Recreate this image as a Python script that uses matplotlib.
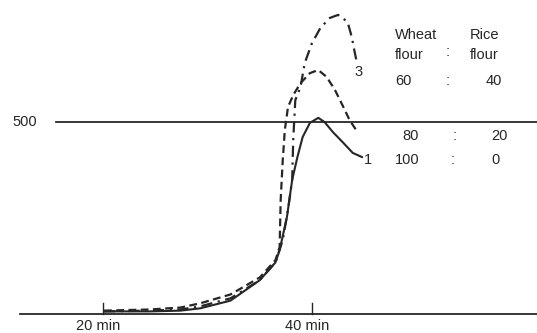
import matplotlib
matplotlib.use("Agg")
import matplotlib.pyplot as plt

# time (min) and viscosity (BU)
t1 = [20.1, 24.5, 27.4, 29.3, 32.2, 35.0, 36.5, 36.9, 37.6, 38.1, 38.6, 39.1, 39.8, 40.6, 41.2, 42.0, 43.0, 43.9, 44.8]
v1 = [8, 8, 10, 16, 36, 89, 135, 167, 253, 349, 408, 460, 497, 510, 499, 473, 445, 419, 408]

t2 = [20.1, 24.5, 27.4, 29.3, 32.2, 35.0, 36.5, 36.9, 37.0, 37.2, 37.4, 37.7, 38.2, 38.9, 39.8, 40.6, 41.4, 42.2, 43.0, 43.6, 44.4]
v2 = [10, 13, 18, 29, 52, 96, 141, 175, 297, 401, 479, 538, 569, 600, 626, 634, 616, 582, 538, 504, 471]

t3 = [20.1, 24.5, 27.4, 29.3, 32.2, 35.0, 36.5, 37.2, 37.7, 38.1, 38.2, 38.4, 38.9, 39.3, 40.0, 40.8, 41.7, 42.5, 43.4, 43.8, 44.1, 44.3]
v3 = [8, 10, 13, 21, 42, 89, 135, 193, 271, 349, 453, 556, 590, 652, 704, 743, 769, 777, 759, 720, 678, 652]

xticks = [20, 40]
xtick_labels = ["20 min", "40 min"]
ref_level = 500

legend_head = [("Wheat", "flour"), ("Rice", "flour")]
ratio_wheat = ["60", "80", "100"]
ratio_rice = ["40", "20", "0"]

col = "#262626"
plt.rcParams['font.family'] = ['Liberation Sans', 'DejaVu Sans']

fig = plt.figure(figsize=(5.37, 3.33), dpi=100)
ax = fig.add_axes([0, 0, 1, 1])
ax.set_xlim(10.14, 61.53)
ax.set_ylim(-48, 815.6)
ax.axis('off')


def px2t(x):
    return 20 + (x - 103) / 10.45


def py2v(y):
    return (314.5 - y) / 0.3856


# axes lines
ax.plot([px2t(20), px2t(540)], [0, 0], color=col, lw=1.3)
ax.plot([px2t(56), px2t(540)], [ref_level, ref_level], color=col, lw=1.3)
ax.text(px2t(25), ref_level, "500", fontsize=10.5, color=col, ha='center', va='center')
for xt, lab in zip(xticks, xtick_labels):
    ax.plot([xt, xt], [0, 30], color=col, lw=1.0)
    ax.text(xt - 0.5, py2v(319), lab, fontsize=10.5, color=col, ha='center', va='top')

# curves
ax.plot(t1, v1, color=col, lw=1.5, solid_capstyle='round', solid_joinstyle='round')
ax.plot(t2, v2, color=col, lw=1.6, linestyle=(0, (3.5, 2)))
ax.plot(t3, v3, color=col, lw=1.6, linestyle=(0, (5, 2.5, 1, 2.5)))

ax.text(px2t(359), py2v(72), "3", fontsize=10.5, color=col, ha='center', va='center')
ax.text(px2t(368), py2v(160), "1", fontsize=10.5, color=col, ha='center', va='center')

# legend table
fs = 10.5
ax.text(px2t(395), py2v(35), legend_head[0][0], fontsize=fs, color=col, ha='left', va='center')
ax.text(px2t(395), py2v(55), legend_head[0][1], fontsize=fs, color=col, ha='left', va='center')
ax.text(px2t(470), py2v(35), legend_head[1][0], fontsize=fs, color=col, ha='left', va='center')
ax.text(px2t(470), py2v(55), legend_head[1][1], fontsize=fs, color=col, ha='left', va='center')
ax.text(px2t(448), py2v(52), ":", fontsize=fs, color=col, ha='center', va='center')

row_y = [81, 136, 160]
row_xa = [395, 402, 395]
row_xc = [448, 455, 453]
row_xb = [502, 508, 500]
for a, b, y, xa, xc, xb in zip(ratio_wheat, ratio_rice, row_y, row_xa, row_xc, row_xb):
    ax.text(px2t(xa), py2v(y), a, fontsize=fs, color=col, ha='left', va='center')
    ax.text(px2t(xc), py2v(y), ":", fontsize=fs, color=col, ha='center', va='center')
    ax.text(px2t(xb), py2v(y), b, fontsize=fs, color=col, ha='right', va='center')

fig.savefig("out.png", dpi=100)
